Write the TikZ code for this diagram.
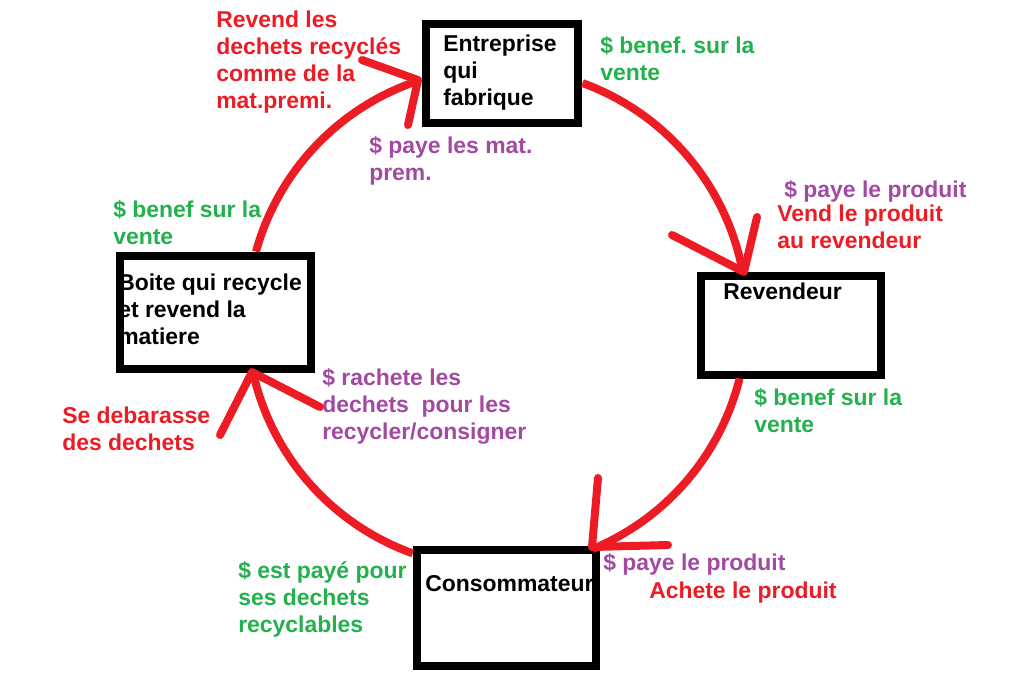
\documentclass[tikz,border=0pt]{standalone}
\usepackage{fontspec}
\setmainfont{Liberation Sans}
\frenchspacing
\definecolor{paintred}{RGB}{237,28,36}
\definecolor{paintgreen}{RGB}{34,177,76}
\definecolor{paintpurple}{RGB}{163,73,164}

\begin{document}
\begin{tikzpicture}[x=0.75pt, y=-0.75pt,
    boxnode/.style={rectangle, draw=black, line width=6pt, inner sep=0pt},
    txtnode/.style={anchor=base west, inner sep=0pt, align=left, font=\fontsize{17.2}{20.25}\selectfont\bfseries},
    cycleline/.style={draw=paintred, line width=6pt},
    headline/.style={draw=paintred, line width=6pt, line cap=round, line join=round}
]
\useasboundingbox (0,0) rectangle (1019,683);

\node[txtnode, text=paintred](lbl_revend) at (216,108){Revend les\\dechets recyclés\\comme de la\\mat.premi.};
\node[txtnode](txt_ent) at (443,105){Entreprise\\qui\\fabrique};
\node[txtnode, text=paintgreen](lbl_benef_1) at (600,80){\$ benef. sur la\\vente};
\node[txtnode, text=paintpurple](lbl_paye_mat) at (369,180){\$ paye les mat.\\prem.};
\node[txtnode, text=paintpurple](lbl_paye_1) at (784,197){\$ paye le produit};
\node[txtnode, text=paintred](lbl_vend) at (777,248){Vend le produit\\au revendeur};
\node[txtnode](txt_rev) at (723,299){Revendeur};
\node[txtnode, text=paintgreen](lbl_benef_2) at (754,432){\$ benef sur la\\vente};
\node[txtnode, text=paintgreen](lbl_benef_3) at (113,244){\$ benef sur la\\vente};
\node[txtnode](txt_boite) at (118,344){Boite qui recycle\\et revend la\\matiere};
\node[txtnode, text=paintpurple](lbl_rachete) at (322,439){\$ rachete les\\dechets~ pour les\\recycler/consigner};
\node[txtnode, text=paintred](lbl_debarasse) at (62,450){Se debarasse\\des dechets};
\node[txtnode, text=paintgreen](lbl_est_paye) at (238,632){\$ est payé pour\\ses dechets\\recyclables};
\node[txtnode](txt_cons) at (425,591){Consommateur};
\node[txtnode, text=paintpurple](lbl_paye_2) at (603,570){\$ paye le produit};
\node[txtnode, text=paintred](lbl_achete) at (649,598){Achete le produit};

\node[boxnode, minimum width=114pt, minimum height=74.25pt](box_ent) at (502,73.5){};
\node[boxnode, minimum width=135pt, minimum height=74.25pt](box_rev) at (791,325.5){};
\node[boxnode, minimum width=143.25pt, minimum height=84.75pt](box_boite) at (215.5,312.5){};
\node[boxnode, minimum width=134.25pt, minimum height=87pt](box_cons) at (506.5,608){};

\coordinate (ctr) at (497,318);
\draw[cycleline] (ctr) ++(-70:250) arc[start angle=-70, end angle=-10.5, radius=250];
\draw[cycleline] (ctr) ++(14:250) arc[start angle=14, end angle=67.5, radius=250];
\draw[cycleline] (ctr) ++(109.7:250) arc[start angle=109.7, end angle=167.6, radius=250];
\draw[cycleline] (ctr) ++(195.4:250) arc[start angle=195.4, end angle=251.6, radius=250];

\coordinate (tip_ent) at (418,80);
\coordinate (tip_rev) at (744,272);
\coordinate (tip_cons) at (592,547);
\coordinate (tip_boite) at (252,372);
\draw[headline] (362,60) -- (tip_ent) -- (408,125);
\draw[headline] (672,235) -- (tip_rev) -- (757,217);
\draw[headline] (598,478) -- (tip_cons) -- (668,545);
\draw[headline] (220,435) -- (tip_boite) -- (320,407);
\end{tikzpicture}
\end{document}
